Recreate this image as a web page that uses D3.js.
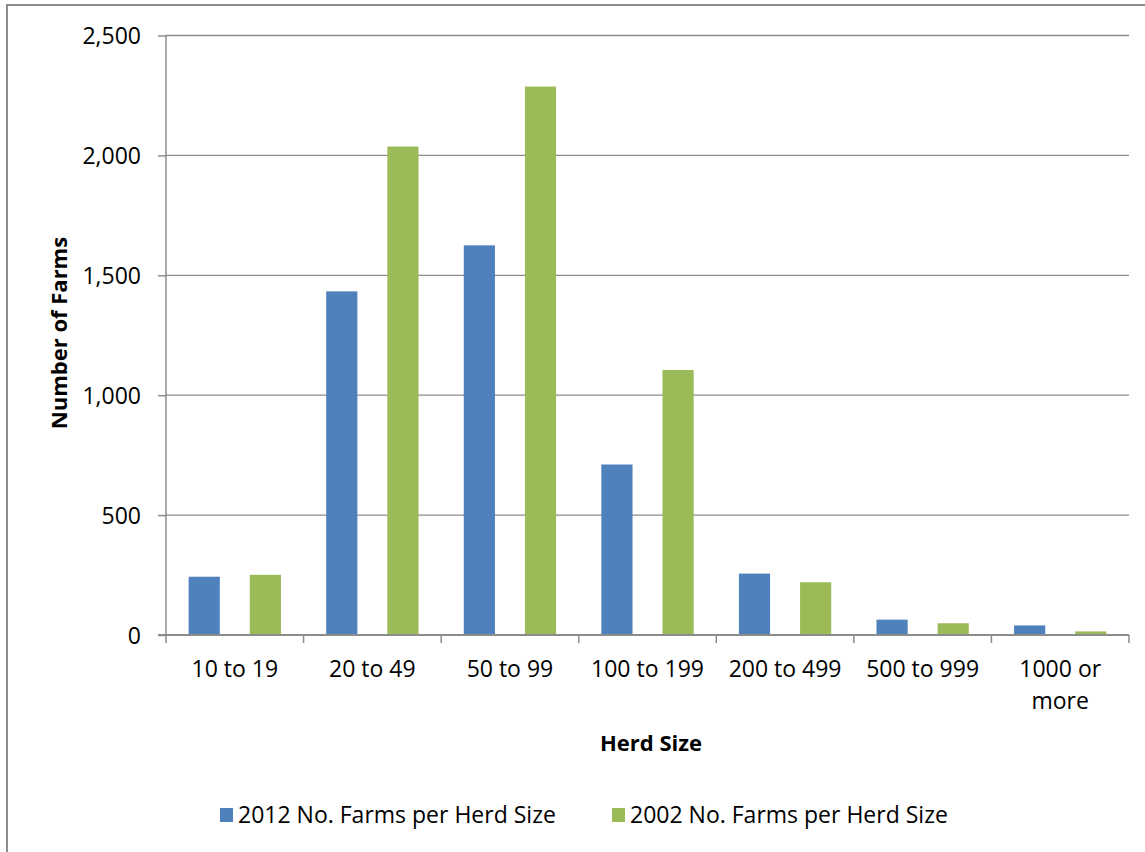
<!DOCTYPE html>
<meta charset="utf-8">
<style>
  body { margin: 0; background: #fff; }
  text { font-family: "Open Sans", Lato, sans-serif; fill: #000; }
  .grid line { stroke: #8c8c8c; stroke-width: 1.3px; }
</style>
<body>
<script src="https://d3js.org/d3.v7.min.js"></script>
<script>
  // data
  var categories = ["10 to 19", "20 to 49", "50 to 99", "100 to 199", "200 to 499", "500 to 999", "1000 or more"];
  var seriesNames = ["2012 No. Farms per Herd Size", "2002 No. Farms per Herd Size"];
  var farms2012 = [243, 1433, 1625, 711, 256, 64, 40];
  var farms2002 = [251, 2037, 2287, 1105, 220, 49, 15];
  var yTicks = [0, 500, 1000, 1500, 2000, 2500];
  var colors = ["#4F81BD", "#9BBB59"];

  var W = 1145, H = 852;
  var margin = { top: 35.5, right: 16, bottom: 217, left: 166 },
    width = W - margin.left - margin.right,
    height = H - margin.top - margin.bottom;

  var fs = "23px";

  var svg = d3.select("body").append("svg")
    .attr("width", W)
    .attr("height", H);

  // outer frame (only top and left edges show)
  svg.append("rect")
    .attr("x", 7).attr("y", 5)
    .attr("width", W).attr("height", H)
    .attr("fill", "none")
    .attr("stroke", "#8c8c8c")
    .attr("stroke-width", 2);

  var g = svg.append("g")
    .attr("transform", "translate(" + margin.left + "," + margin.top + ")");

  var x = d3.scaleBand().domain(categories).range([0, width]);
  var x1 = d3.scaleBand().domain([0, 1]).range([0, x.bandwidth()])
    .paddingInner(0.49).paddingOuter(0.37);
  var y = d3.scaleLinear().domain([0, 2500]).range([height, 0]);

  // gridlines
  g.append("g").attr("class", "grid")
    .selectAll("line")
    .data(yTicks.slice(1))
    .enter().append("line")
    .attr("x1", 0).attr("x2", width)
    .attr("y1", function (d) { return y(d); })
    .attr("y2", function (d) { return y(d); });

  // bars
  var groups = g.selectAll(".cat")
    .data(categories)
    .enter().append("g")
    .attr("transform", function (d) { return "translate(" + x(d) + ",0)"; });

  groups.selectAll("rect")
    .data(function (d, i) { return [farms2012[i], farms2002[i]]; })
    .enter().append("rect")
    .attr("x", function (d, j) { return x1(j); })
    .attr("width", x1.bandwidth())
    .attr("y", function (d) { return y(d); })
    .attr("height", function (d) { return height - y(d); })
    .attr("fill", function (d, j) { return colors[j]; });

  // y axis
  var yAxis = g.append("g")
    .call(d3.axisLeft(y).tickValues(yTicks).tickSize(8).tickPadding(17)
      .tickFormat(d3.format(",")));
  yAxis.selectAll("line, path").attr("stroke", "#8c8c8c").attr("stroke-width", 1.5);
  yAxis.select(".domain").attr("d", "M0," + height + "V0");
  yAxis.selectAll("text").style("font-size", fs).attr("dy", "0.36em");

  // x axis
  var xAxis = g.append("g")
    .attr("transform", "translate(0," + height + ")")
    .call(d3.axisBottom(x).tickSize(0).tickFormat(""));
  xAxis.select(".domain").attr("stroke", "#8c8c8c").attr("stroke-width", 2)
    .attr("d", "M-8,0H" + width);
  xAxis.selectAll(".bx")
    .data(d3.range(categories.length + 1))
    .enter().append("line")
    .attr("x1", function (i) { return i * x.step(); })
    .attr("x2", function (i) { return i * x.step(); })
    .attr("y1", 0).attr("y2", 8)
    .attr("stroke", "#8c8c8c").attr("stroke-width", 1.5);

  // category labels, wrapped for the last one
  var labelLines = { "1000 or more": ["1000 or", "more"] };
  categories.forEach(function (c) {
    var lines = labelLines[c] || [c];
    var t = xAxis.append("text")
      .attr("text-anchor", "middle")
      .style("font-size", fs);
    lines.forEach(function (l, k) {
      t.append("tspan")
        .attr("x", x(c) + x.bandwidth() / 2)
        .attr("y", 42 + k * 32)
        .text(l);
    });
  });

  // axis titles
  svg.append("text")
    .attr("x", 651).attr("y", 751)
    .attr("text-anchor", "middle")
    .style("font-size", "22px").style("font-weight", "bold")
    .text("Herd Size");

  svg.append("text")
    .attr("transform", "translate(67,333) rotate(-90)")
    .attr("text-anchor", "middle")
    .style("font-size", "22px").style("font-weight", "bold")
    .text("Number of Farms");

  // legend
  var legendX = [220, 612];
  var legend = svg.selectAll(".legend")
    .data(seriesNames)
    .enter().append("g")
    .attr("transform", function (d, i) { return "translate(" + legendX[i] + ",808)"; });
  legend.append("rect")
    .attr("width", 13).attr("height", 14)
    .attr("fill", function (d, i) { return colors[i]; });
  legend.append("text")
    .attr("x", 18).attr("y", 15)
    .style("font-size", fs)
    .text(function (d) { return d; });
</script>
</body>
